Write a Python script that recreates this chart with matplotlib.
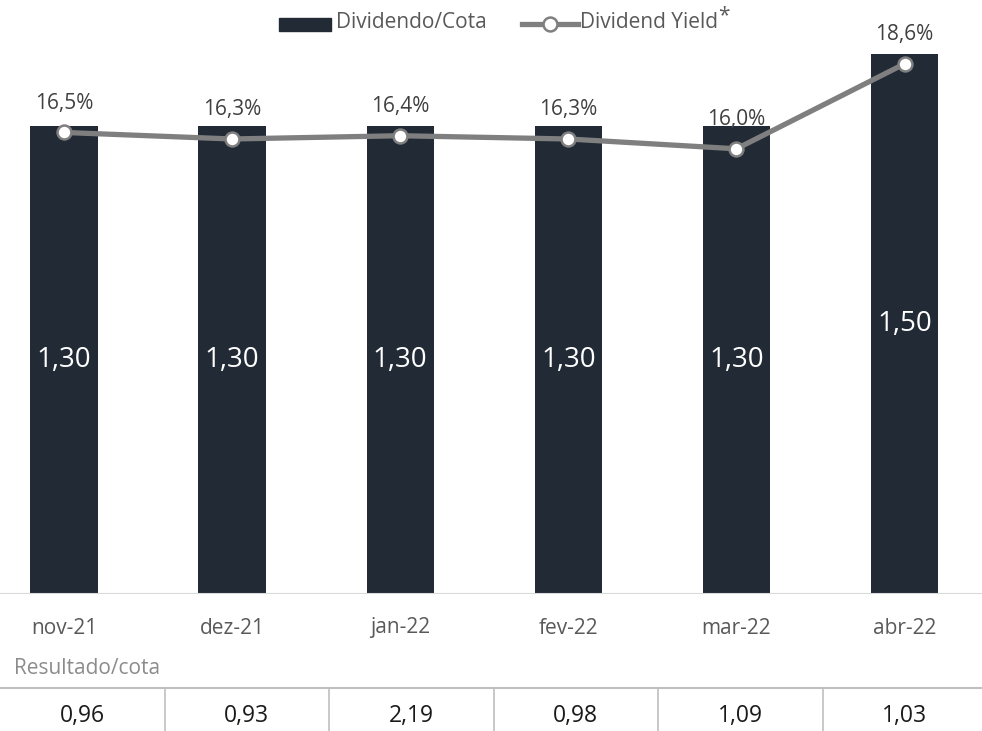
import matplotlib.pyplot as plt
import matplotlib.transforms as mtransforms
from matplotlib.patches import Rectangle
from matplotlib.lines import Line2D
import numpy as np

plt.rcParams['font.family'] = ['Open Sans', 'DejaVu Sans']

months = ['nov-21', 'dez-21', 'jan-22', 'fev-22', 'mar-22', 'abr-22']
dividendo_cota = [1.30, 1.30, 1.30, 1.30, 1.30, 1.50]
dividend_yield = [16.5, 16.3, 16.4, 16.3, 16.0, 18.6]
resultado_cota = [0.96, 0.93, 2.19, 0.98, 1.09, 1.03]

BAR_COLOR = '#212a35'
LINE_COLOR = '#7f7f7f'
W, H = 982, 731


def fx(px):
    return px / W


def fy(py):
    return 1 - py / H


def br(v, fmt='{:.2f}'):
    return fmt.format(v).replace('.', ',')


fig = plt.figure(figsize=(W / 100, H / 100), dpi=100)

# main chart area: baseline at y=594px, spans whole width
ax = fig.add_axes([0, fy(594), 1, 594 / H])
x = np.arange(len(months))
ax.bar(x, dividendo_cota, width=0.40, color=BAR_COLOR, zorder=2)
ax.set_xlim(-0.38, 5.46)
ax.set_ylim(0, 594 / 360)
for s in ax.spines.values():
    s.set_visible(False)
ax.set_xticks([])
ax.set_yticks([])
ax.axhline(0, color='#d9d9d9', lw=1.5, zorder=3)

for xi, v in zip(x, dividendo_cota):
    ax.text(xi, v / 2, br(v), ha='center', va='center', color='white', fontsize=20, zorder=4)

# category labels below axis
trans = mtransforms.blended_transform_factory(ax.transData, fig.transFigure)
for xi, m in zip(x, months):
    ax.text(xi, fy(628), m, transform=trans, ha='center', va='center', color='#595959', fontsize=15)

# yield line on secondary axis
ax2 = ax.twinx()
ax2.set_ylim((672 - 594) / 32.7, 672 / 32.7)
ax2.plot(x, dividend_yield, color=LINE_COLOR, lw=3.8, marker='o', ms=10,
         mfc='white', mec=LINE_COLOR, mew=1.8, zorder=5)
for s in ax2.spines.values():
    s.set_visible(False)
ax2.set_yticks([])
for xi, v in zip(x, dividend_yield):
    ax2.annotate(br(v, '{:.1f}') + '%', (xi, v), xytext=(0, 21), textcoords='offset points',
                 ha='center', va='center', color='#404040', fontsize=15)

# legend drawn by hand
fig.patches.append(Rectangle((fx(279), fy(31)), fx(52), 13 / H, transform=fig.transFigure,
                             color=BAR_COLOR))
fig.text(fx(336), fy(23), 'Dividendo/Cota', ha='left', va='center', color='#595959', fontsize=15)
fig.lines.append(Line2D([fx(522), fx(578)], [fy(23.5), fy(23.5)], transform=fig.transFigure,
                        color=LINE_COLOR, lw=3.8))
fig.lines.append(Line2D([fx(550)], [fy(23.5)], transform=fig.transFigure, marker='o', ms=10,
                        mfc='white', mec=LINE_COLOR, mew=1.8))
fig.text(fx(580), fy(23), 'Dividend Yield', ha='left', va='center', color='#595959', fontsize=15)
fig.text(fx(718), fy(16), '*', ha='left', va='center', color='#595959', fontsize=15)

# results table
fig.text(fx(14), fy(668), 'Resultado/cota', ha='left', va='center', color='#8c8c8c', fontsize=15)
fig.lines.append(Line2D([0, 1], [fy(688), fy(688)], transform=fig.transFigure, color='#bfbfbf', lw=1.5))
col_w = 164.5
for j, v in enumerate(resultado_cota):
    if j > 0:
        fig.lines.append(Line2D([fx(j * col_w)] * 2, [fy(688), 0], transform=fig.transFigure,
                                color='#bfbfbf', lw=1.2))
    fig.text(fx((j + 0.5) * col_w), fy(716), br(v), ha='center', va='center', color='#1a1a1a', fontsize=16.5)

fig.savefig('out.png', dpi=100)
